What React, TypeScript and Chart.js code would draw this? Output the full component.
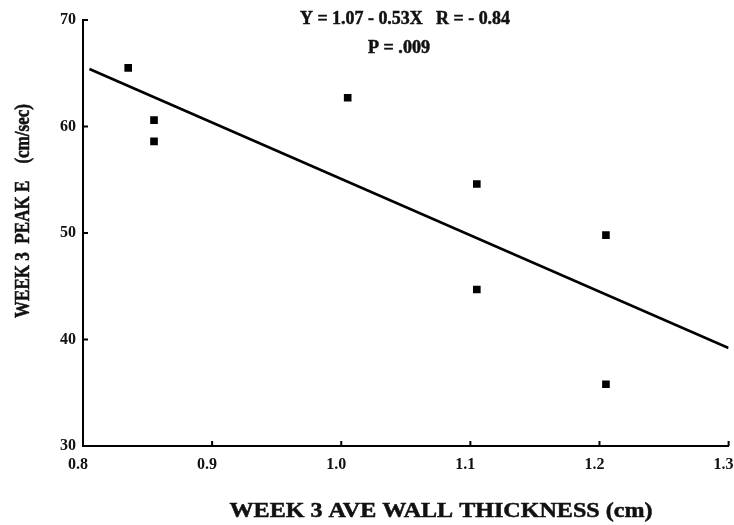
import React, { useEffect, useRef } from "react";
import { Chart, registerables } from "chart.js";

Chart.register(...registerables);

// Data
const thickness = [0.835, 0.855, 0.855, 1.005, 1.105, 1.105, 1.205, 1.205];
const peakE = [65.5, 60.6, 58.6, 62.7, 54.6, 44.7, 49.8, 35.8];
const fitX = [0.805, 1.3];
const fitY = [65.4, 39.2];
const xTicks = [0.8, 0.9, 1.0, 1.1, 1.2, 1.3];
const yTicks = [30, 40, 50, 60, 70];
const xTitle = "WEEK 3 AVE WALL THICKNESS (cm)";
const yTitle = "WEEK 3  PEAK E    (cm/sec)";
const eqText = "Y = 1.07 - 0.53X   R = - 0.84";
const pText = "P = .009";

const FONT = '"Liberation Serif", "Times New Roman", serif';

function fitText(ctx: CanvasRenderingContext2D, text: string, x: number, y: number, size: number, width: number) {
  ctx.font = `bold ${size}px ${FONT}`;
  const w = ctx.measureText(text).width;
  ctx.save();
  ctx.translate(x, y);
  ctx.scale(width / w, 1);
  ctx.textAlign = "center";
  ctx.textBaseline = "alphabetic";
  ctx.fillText(text, 0, 0);
  ctx.lineWidth = 0.5;
  ctx.strokeStyle = "#111";
  ctx.strokeText(text, 0, 0);
  ctx.restore();
}

const decorPlugin = {
  id: "decor",
  beforeDraw(chart: any) {
    const ctx = chart.ctx;
    ctx.save();
    ctx.fillStyle = "#fff";
    ctx.fillRect(0, 0, chart.width, chart.height);
    ctx.restore();
  },
  afterDraw(chart: any) {
    const ctx: CanvasRenderingContext2D = chart.ctx;
    const xs = chart.scales.x;
    const ys = chart.scales.y;
    ctx.save();
    ctx.strokeStyle = "#000";
    ctx.lineWidth = 2;
    // inward tick marks
    xTicks.forEach((v) => {
      const px = xs.getPixelForValue(v);
      ctx.beginPath();
      ctx.moveTo(px, ys.bottom);
      ctx.lineTo(px, ys.bottom - 5);
      ctx.stroke();
    });
    yTicks.forEach((v) => {
      const py = ys.getPixelForValue(v);
      ctx.beginPath();
      ctx.moveTo(xs.left, py);
      ctx.lineTo(xs.left + 5, py);
      ctx.stroke();
    });
    ctx.fillStyle = "#111";
    // annotations
    fitText(ctx, eqText, 405, 24, 18, 210);
    fitText(ctx, pText, 399, 53, 18, 62);
    // x title
    fitText(ctx, xTitle, 441, 517, 21, 423);
    // y title
    ctx.save();
    ctx.translate(29, 211);
    ctx.rotate(-Math.PI / 2);
    fitText(ctx, yTitle, 0, 0, 20, 214);
    ctx.restore();
    ctx.restore();
  },
};

export default function App() {
  const ref = useRef<HTMLCanvasElement | null>(null);
  useEffect(() => {
    if (!ref.current) return;
    const chart = new Chart(ref.current, {
      type: "scatter",
      data: {
        datasets: [
          {
            type: "scatter",
            data: thickness.map((x, i) => ({ x, y: peakE[i] })),
            pointStyle: "rect",
            radius: 5.4,
            backgroundColor: "#000",
            borderColor: "#000",
            borderWidth: 0,
          },
          {
            type: "line",
            data: fitX.map((x, i) => ({ x, y: fitY[i] })),
            borderColor: "#000",
            borderWidth: 2.6,
            pointRadius: 0,
            fill: false,
          } as any,
        ],
      },
      options: {
        animation: false,
        responsive: false,
        events: [],
        layout: { padding: { left: 0, right: 4, top: 20, bottom: 0 } },
        plugins: { legend: { display: false }, tooltip: { enabled: false } },
        scales: {
          x: {
            type: "linear",
            min: 0.8,
            max: 1.3,
            afterFit: (s: any) => { s.height = 79; s.paddingLeft = 0; s.paddingRight = 0; },
            afterBuildTicks: (s: any) => { s.ticks = xTicks.map((v) => ({ value: v })); },
            grid: { display: false, drawTicks: false },
            border: { display: true, color: "#000", width: 2 },
            ticks: {
              padding: 9,
              labelOffset: -5,
              color: "#111",
              font: { family: FONT, size: 16, weight: "bold" },
              callback: (v: any) => Number(v).toFixed(1),
            },
          },
          y: {
            type: "linear",
            min: 30,
            max: 70,
            afterFit: (s: any) => { s.width = 83; s.paddingTop = 0; s.paddingBottom = 0; },
            afterBuildTicks: (s: any) => { s.ticks = yTicks.map((v) => ({ value: v })); },
            grid: { display: false, drawTicks: false },
            border: { display: true, color: "#000", width: 2 },
            ticks: {
              padding: 7,
              color: "#111",
              font: { family: FONT, size: 16, weight: "bold" },
              callback: (v: any) => String(v),
            },
          },
        },
      } as any,
      plugins: [decorPlugin],
    });
    return () => chart.destroy();
  }, []);
  return (
    <div style={{ position: "absolute", left: 0, top: 0, width: 734, height: 525, background: "#fff" }}>
      <canvas ref={ref} width={734} height={525} style={{ display: "block", width: 734, height: 525 }} />
    </div>
  );
}
